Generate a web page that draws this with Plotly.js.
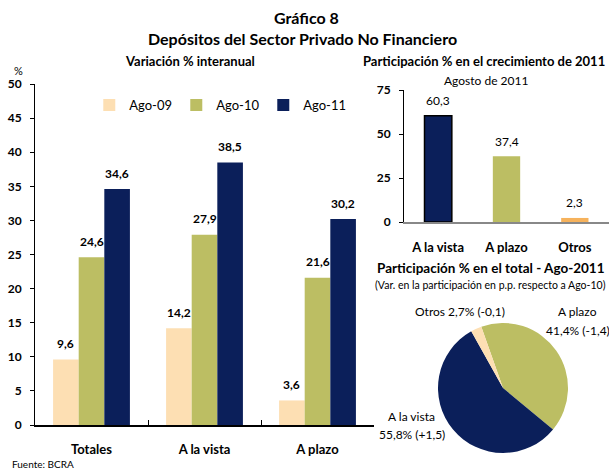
<!DOCTYPE html>
<html>
<head>
<meta charset="utf-8">
<script src="https://cdn.plot.ly/plotly-3.0.1.min.js"></script>
<style>html,body{margin:0;padding:0;background:#fff;}#chart{width:609px;height:470px;}</style>
</head>
<body>
<div id="chart"></div>
<script>
// ---- Data ----
const categories = ["Totales", "A la vista", "A plazo"];
const seriesNames = ["Ago-09", "Ago-10", "Ago-11"];
const ago09 = [9.6, 14.2, 3.6];
const ago10 = [24.6, 27.9, 21.6];
const ago11 = [34.6, 38.5, 30.2];

const growthCategories = ["A la vista", "A plazo", "Otros"];
const growthShares = [60.3, 37.4, 2.3];

const pieLabels = ["A plazo", "A la vista", "Otros"];
const pieShares = [41.4, 55.8, 2.7];
const pieChanges = ["-1,4", "+1,5", "-0,1"];

// ---- Styles ----
const NAVY = "#0B1F5A", OLIVE = "#BCBE63", PEACH = "#FDDFB3", ORANGE = "#F6B25C";
const FONT = "Lato, 'Open Sans', sans-serif";
const seriesColors = [PEACH, OLIVE, NAVY];
const seriesData = [ago09, ago10, ago11];
const BARGAP = 0.32;
const fmt = v => v.toFixed(1).replace(".", ",");

const traces = seriesData.map((vals, i) => ({
  type: "bar", x: categories, y: vals, name: seriesNames[i],
  marker: {color: seriesColors[i], line: {width: 0}},
  xaxis: "x", yaxis: "y", hoverinfo: "skip"
}));

traces.push({
  type: "bar", x: growthCategories, y: growthShares, showlegend: false,
  width: 0.4, xaxis: "x2", yaxis: "y2", hoverinfo: "skip",
  marker: {color: [NAVY, OLIVE, ORANGE], line: {color: "#000", width: [1.5, 0, 0]}}
});

traces.push({
  type: "pie", values: pieShares, labels: pieLabels, sort: false,
  direction: "clockwise", rotation: -19.5, textinfo: "none", hoverinfo: "skip",
  showlegend: false,
  marker: {colors: [OLIVE, NAVY, PEACH], line: {width: 0}},
  domain: {x: [438/609, 568/609], y: [1 - 453/470, 1 - 323/470]}
});

const annotations = [];
// bar value labels on left chart (positioned through the axis scales)
const groupW = 1 - BARGAP, barW = groupW / seriesData.length;
seriesData.forEach((vals, i) => {
  vals.forEach((v, j) => {
    annotations.push({
      xref: "x", yref: "y", x: j - groupW / 2 + barW * (i + 0.5), y: v,
      text: "<b>" + fmt(v) + "</b>", showarrow: false, yanchor: "middle", yshift: 16,
      font: {family: FONT, size: 12, color: "#000"}
    });
  });
});
growthShares.forEach((v, j) => {
  annotations.push({
    xref: "x2", yref: "y2", x: growthCategories[j], y: v,
    text: fmt(v), showarrow: false, yanchor: "middle", yshift: 15,
    font: {family: FONT, size: 12, color: "#000"}
  });
});

function txt(text, x, y, size, bold, anchor) {
  annotations.push({
    xref: "paper", yref: "paper", x: x / 609, y: 1 - y / 470,
    text: bold ? "<b>" + text + "</b>" : text, showarrow: false,
    xanchor: anchor || "center", yanchor: "middle",
    font: {family: FONT, size: size, color: "#000"}
  });
}
txt("Gráfico 8", 306, 17, 16, true);
txt("Depósitos del Sector Privado No Financiero", 302, 38, 16, true);
txt("Variación % interanual", 190, 61, 13, true);
txt("%", 18, 70, 11, false);
txt("Participación % en el crecimiento de 2011", 484, 61, 13, true);
txt("Agosto de 2011", 486, 80, 12, false);
txt("Participación % en el total - Ago-2011", 491, 268, 13.5, true);
txt("(Var. en la participación en p.p. respecto a Ago-10)", 490, 285, 10.5, false);
txt(pieLabels[2] + " " + fmt(pieShares[2]) + "% (" + pieChanges[2] + ")", 460, 311, 12, false);
txt(pieLabels[0], 577, 311, 12, false);
txt(fmt(pieShares[0]) + "% (" + pieChanges[0] + ")", 578, 330, 12, false);
txt(pieLabels[1], 412, 416, 12, false);
txt(fmt(pieShares[1]) + "% (" + pieChanges[1] + ")", 412, 434, 12, false);
txt("Fuente: BCRA", 10, 464, 10, false, "left");

const layout = {
  width: 609, height: 470,
  margin: {l: 0, r: 0, t: 0, b: 0},
  paper_bgcolor: "#fff", plot_bgcolor: "rgba(0,0,0,0)",
  font: {family: FONT, color: "#000"},
  separators: ", ",
  barmode: "group", bargap: BARGAP, bargroupgap: 0,
  showlegend: true,
  legend: {
    orientation: "h", x: 0.1466, y: 1 - 105/470, xanchor: "left", yanchor: "middle",
    entrywidth: 42, entrywidthmode: "pixels", bgcolor: "rgba(0,0,0,0)",
    font: {family: FONT, size: 13, color: "#000"}, traceorder: "normal"
  },
  xaxis: {
    domain: [35/609, 374/609], anchor: "y", type: "category",
    showline: true, linecolor: "#000", linewidth: 1.5,
    ticks: "inside", tickson: "boundaries", ticklen: 5, tickcolor: "#000", tickwidth: 1,
    ticklabelstandoff: 12, showgrid: false, zeroline: false,
    tickfont: {family: FONT, size: 13, color: "#000", weight: "bold"}
  },
  yaxis: {
    domain: [1 - 425/470, 1 - 84/470], anchor: "x", range: [0, 50], dtick: 5,
    showline: true, linecolor: "#000", linewidth: 1,
    ticks: "outside", ticklen: 4, tickcolor: "#000", showgrid: false, zeroline: false,
    ticklabelstandoff: 6,
    tickfont: {family: FONT, size: 12, color: "#000", weight: "bold"}
  },
  xaxis2: {
    domain: [404/609, 1], anchor: "y2", type: "category",
    showline: true, linecolor: "#888", linewidth: 1.5, ticks: "",
    ticklabelstandoff: 13, showgrid: false, zeroline: false,
    tickfont: {family: FONT, size: 13, color: "#000", weight: "bold"}
  },
  yaxis2: {
    domain: [1 - 222/470, 1 - 90/470], anchor: "x2", range: [0, 75], dtick: 25,
    showline: true, linecolor: "#000", linewidth: 1,
    ticks: "outside", ticklen: 4, tickcolor: "#000", showgrid: false, zeroline: false,
    ticklabelstandoff: 6,
    tickfont: {family: FONT, size: 12, color: "#000", weight: "bold"}
  },
  annotations: annotations
};

Plotly.newPlot("chart", traces, layout, {staticPlot: true, displayModeBar: false});
</script>
</body>
</html>
